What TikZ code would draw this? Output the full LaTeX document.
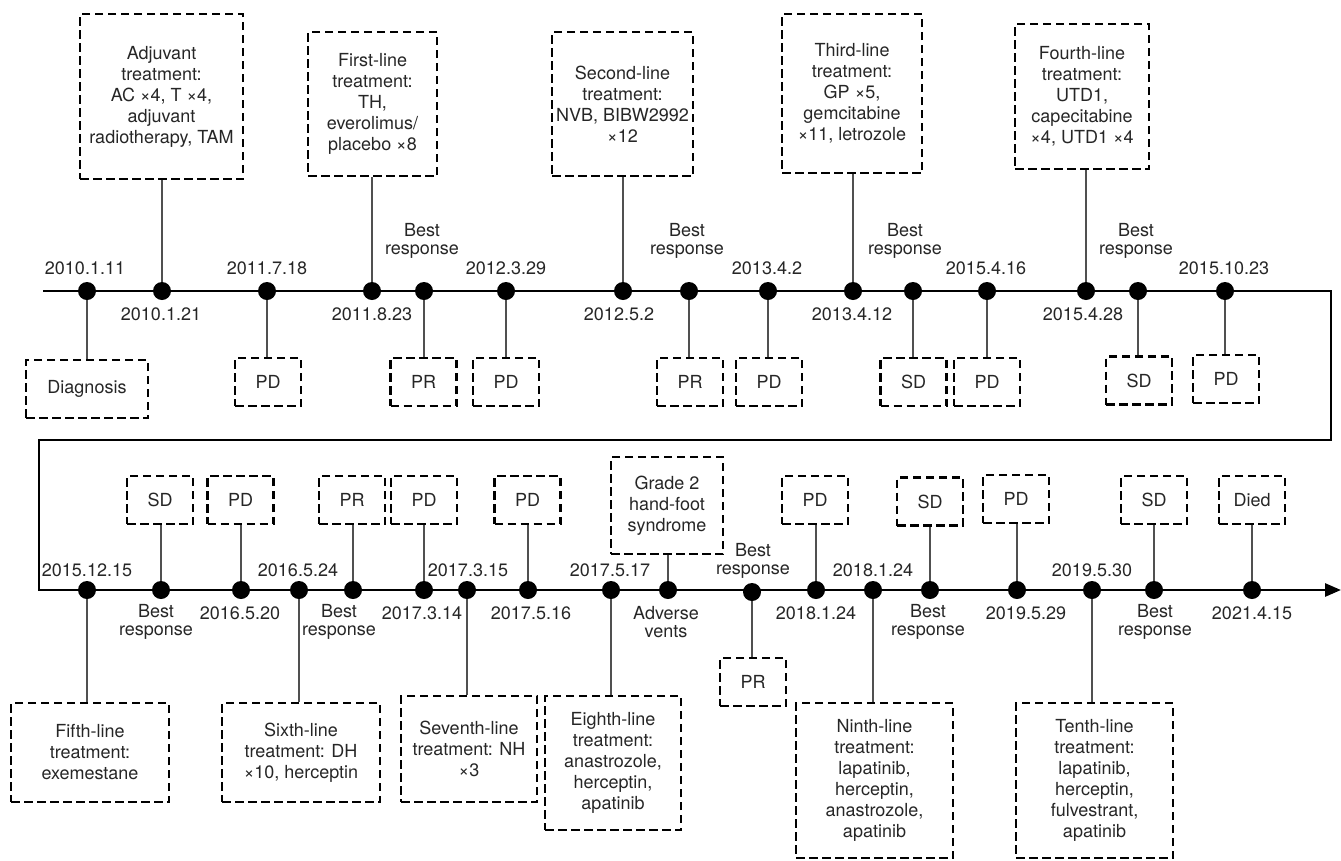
\documentclass[tikz,border=0pt]{standalone}
\usepackage{fontspec}
\setmainfont{TeX Gyre Heros}
\usetikzlibrary{arrows.meta}
\definecolor{txt}{HTML}{262626}
\definecolor{cn}{HTML}{505050}
\begin{document}
\begin{tikzpicture}[x=1pt,y=-1pt,
 every node/.style={font=\fontsize{18}{21}\selectfont, text=txt},
 dotn/.style={circle,fill=black,inner sep=0pt,minimum size=18pt},
 dbox/.style={draw=black,line width=2.2pt,dash pattern=on 8.5pt off 4.5pt,align=center,inner sep=0pt},
 sbox/.style={dbox,minimum width=66pt,minimum height=48pt},
 lab/.style={align=center,inner sep=0pt},
 lab2/.style={lab,font=\fontsize{18}{18.5}\selectfont},
 conn/.style={draw=cn,line width=1.3pt},
 tl/.style={line width=2.8pt,line join=miter}]
\useasboundingbox (0,0) rectangle (1341,860);

% timeline
\coordinate (s) at (43,291);
\coordinate (r1) at (1331,291);
\coordinate (r2) at (1331,440);
\coordinate (l1) at (39,440);
\coordinate (l2) at (39,590);
\coordinate (e) at (1341,590);
\draw[tl,-{Triangle[length=16pt,width=13pt]}] (s) -- (r1) -- (r2) -- (l1) -- (l2) -- (e);

% ---------- top row boxes ----------
\node[dbox,minimum width=163pt,minimum height=165pt] (A2) at (161.5,96.5) {Adjuvant\\treatment:\\AC ×4, T ×4,\\adjuvant\\radiotherapy, TAM};
\node[dbox,minimum width=129pt,minimum height=144pt] (A4) at (372.5,104) {First-line\\treatment:\\TH,\\everolimus/\\placebo ×8};
\node[dbox,minimum width=141pt,minimum height=144pt] (A7) at (622.5,104) {Second-line\\treatment:\\NVB, BIBW2992\\×12};
\node[dbox,minimum width=140pt,minimum height=159pt] (A10) at (852,93.5) {Third-line\\treatment:\\GP ×5,\\gemcitabine\\×11, letrozole};
\node[dbox,minimum width=134pt,minimum height=145pt] (A13) at (1082,96.5) {Fourth-line\\treatment:\\UTD1,\\capecitabine\\×4, UTD1 ×4};

\node[dbox,minimum width=122pt,minimum height=58pt] (B1) at (87,389) {Diagnosis};
\node[sbox] (B3) at (268,382) {PD};
\node[sbox] (B5) at (423.5,382) {PR};
\node[sbox] (B6) at (506,382) {PD};
\node[sbox] (B8) at (690,382) {PR};
\node[sbox] (B9) at (769,382) {PD};
\node[sbox] (B11) at (913.5,382) {SD};
\node[sbox] (B12) at (987,382) {PD};
\node[sbox] (B14) at (1139,380.5) {SD};
\node[sbox] (B15) at (1226,379) {PD};

% top dots
\foreach \n/\x in {1/87,2/162,3/267,4/372,5/424,6/506,7/623,8/689,9/768,10/853,11/913,12/987,13/1086,14/1138,15/1225}
  \node[dotn] (t\n) at (\x,291) {};

% top connectors
\foreach \n in {2,4,7,10,13} \draw[conn] (t\n) -- (t\n |- A\n.south);
\foreach \n in {1,3,5,6,8,9,11,12,14,15} \draw[conn] (t\n) -- (t\n |- B\n.north);

% top labels
\node[lab] (la1) at (85,268) {2010.1.11};
\node[lab] (la3) at (267,268) {2011.7.18};
\node[lab] (la6) at (506,268) {2012.3.29};
\node[lab] (la9) at (767,268) {2013.4.2};
\node[lab] (la12) at (986,268) {2015.4.16};
\node[lab] (la15) at (1224,268) {2015.10.23};
\node[lab] (lb2) at (161,314) {2010.1.21};
\node[lab] (lb4) at (372,314) {2011.8.23};
\node[lab] (lb7) at (619,314) {2012.5.2};
\node[lab] (lb10) at (852,314) {2013.4.12};
\node[lab] (lb13) at (1083,314) {2015.4.28};
\node[lab2] (br5) at (422,241) {Best\\response};
\node[lab2] (br8) at (687,241) {Best\\response};
\node[lab2] (br11) at (905,241) {Best\\response};
\node[lab2] (br14) at (1136,241) {Best\\response};

% ---------- bottom row boxes ----------
\node[sbox] (C2) at (160,500) {SD};
\node[sbox] (C3) at (240.5,500) {PD};
\node[sbox] (C5) at (352,500) {PR};
\node[sbox] (C6) at (424,500) {PD};
\node[sbox] (C8) at (527.5,500) {PD};
\node[dbox,minimum width=112pt,minimum height=97pt] (C10) at (667,505.5) {Grade 2\\hand-foot\\syndrome};
\node[sbox] (C12) at (815,500) {PD};
\node[sbox] (C14) at (930,501.5) {SD};
\node[sbox] (C15) at (1016,499) {PD};
\node[sbox] (C17) at (1154,500) {SD};
\node[sbox] (C18) at (1252,500) {Died};

\node[dbox,minimum width=158pt,minimum height=99pt] (D1) at (90,752.5) {Fifth-line\\treatment:\\exemestane};
\node[dbox,minimum width=158pt,minimum height=99pt] (D4) at (301,752.5) {Sixth-line\\treatment: DH\\×10, herceptin};
\node[dbox,minimum width=136pt,minimum height=106pt] (D7) at (469,749) {Seventh-line\\treatment: NH\\×3};
\node[dbox,minimum width=136pt,minimum height=134pt] (D9) at (613,763) {Eighth-line\\treatment:\\anastrozole,\\herceptin,\\apatinib};
\node[sbox] (D11) at (753,682) {PR};
\node[dbox,minimum width=157pt,minimum height=155pt] (D13) at (874.5,780.5) {Ninth-line\\treatment:\\lapatinib,\\herceptin,\\anastrozole,\\apatinib};
\node[dbox,minimum width=157pt,minimum height=155pt] (D16) at (1094.5,780.5) {Tenth-line\\treatment:\\lapatinib,\\herceptin,\\fulvestrant,\\apatinib};

% bottom dots
\foreach \n/\x in {1/87,2/161,3/241,4/299,5/353,6/424,7/467,8/528,9/611,10/668,12/816,13/873,14/930,15/1017,16/1092,17/1154,18/1252}
  \node[dotn] (u\n) at (\x,590) {};
\node[dotn] (u11) at (752,592) {};

% bottom connectors
\foreach \n in {2,3,5,6,8,10,12,14,15,17,18} \draw[conn] (u\n) -- (u\n |- C\n.south);
\foreach \n in {1,4,7,9,11,13,16} \draw[conn] (u\n) -- (u\n |- D\n.north);

% bottom labels
\node[lab] (ma1) at (87,570) {2015.12.15};
\node[lab] (ma4) at (298,570) {2016.5.24};
\node[lab] (ma7) at (468,570) {2017.3.15};
\node[lab] (ma9) at (610,570) {2017.5.17};
\node[lab] (ma13) at (873,570) {2018.1.24};
\node[lab] (ma16) at (1092,570) {2019.5.30};
\node[lab2] (mr11) at (753,561) {Best\\response};
\node[lab] (mb3) at (240,613) {2016.5.20};
\node[lab] (mb6) at (422,613) {2017.3.14};
\node[lab] (mb8) at (531,613) {2017.5.16};
\node[lab] (mb12) at (816,613) {2018.1.24};
\node[lab] (mb15) at (1026,613) {2019.5.29};
\node[lab] (mb18) at (1252,613) {2021.4.15};
\node[lab2] (mr2) at (156,622) {Best\\response};
\node[lab2] (mr5) at (339,622) {Best\\response};
\node[lab2] (mr10) at (666,622) {Adverse\\vents};
\node[lab2] (mr14) at (928,622) {Best\\response};
\node[lab2] (mr17) at (1155,622) {Best\\response};
\end{tikzpicture}
\end{document}
